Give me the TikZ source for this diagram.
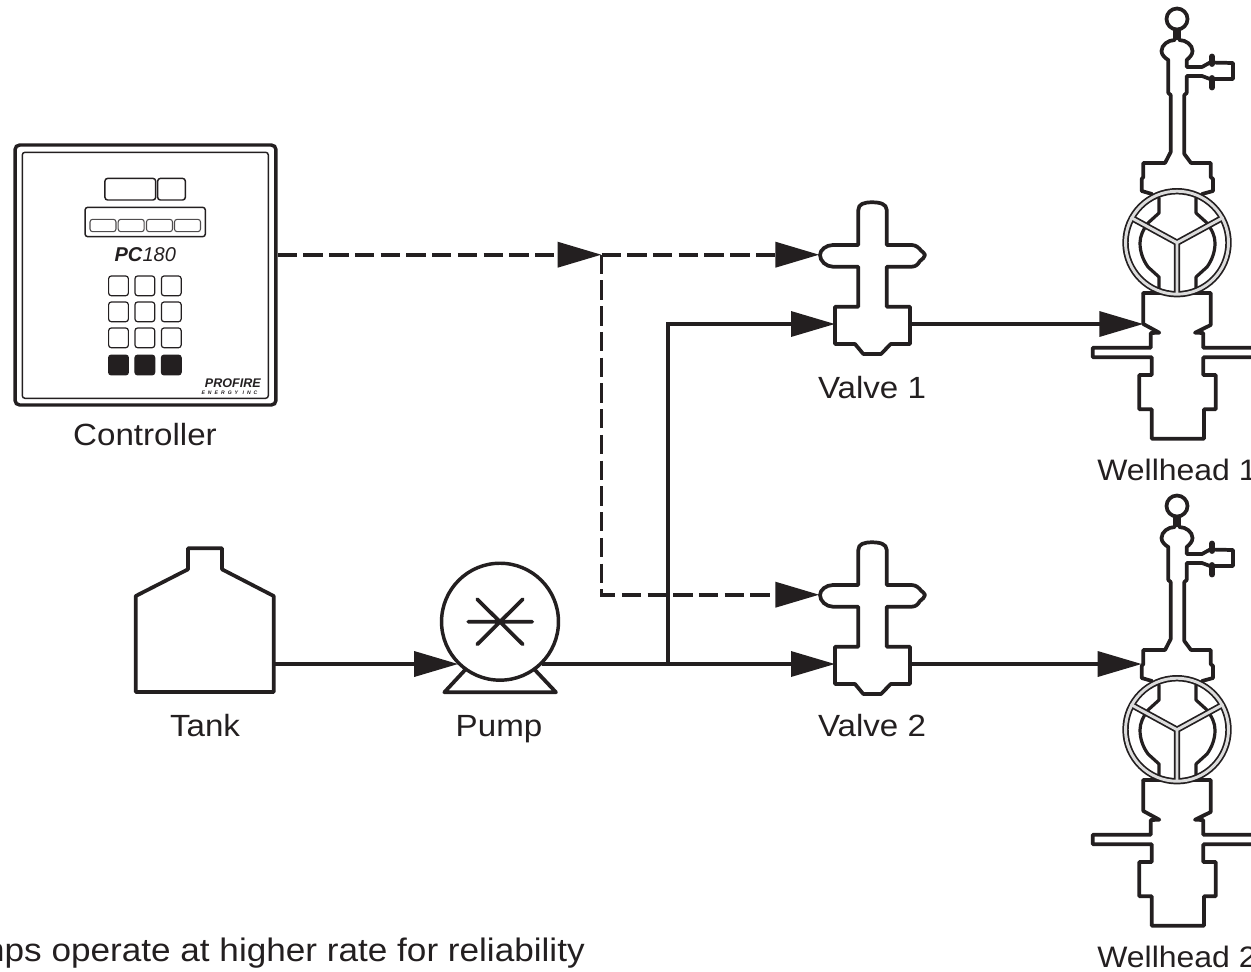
\documentclass[tikz,border=0pt]{standalone}
\usepackage{fontspec}
\usepackage{graphicx}
\setmainfont[FakeStretch=1.08]{Liberation Sans}
\newfontfamily\logofont{Liberation Sans}
\usetikzlibrary{arrows.meta}
\definecolor{ink}{HTML}{231F20}
\definecolor{ringgray}{HTML}{DCDCDC}
\tikzset{
  outline/.style={draw=ink,line width=2.8pt,line join=round,line cap=round},
  flow/.style={draw=ink,line width=2.6pt,line join=miter},
  tipped/.style={-{Triangle[length=33pt,width=18.75pt,color=ink,fill=ink]}},
  signal/.style={draw=ink,line width=2.8pt,dash pattern=on 14.5pt off 4.8pt},
  label/.style={text=ink,inner sep=0pt,anchor=base,font=\fontsize{23}{26}\selectfont},
  welllabel/.style={label,anchor=base west,font=\fontsize{22.2}{26}\selectfont},
  notelabel/.style={label,anchor=base east,font=\fontsize{24.4}{28}\selectfont},
  panelbox/.style={draw=ink,line width=1.1pt,rounded corners=2pt,inner sep=0pt},
  softbox/.style={draw=ink!80,line width=.8pt,rounded corners=2pt,inner sep=0pt,minimum width=19.5pt,minimum height=9.3pt},
  keybox/.style={draw=ink,line width=.9pt,rounded corners=2pt,inner sep=0pt,minimum width=14.8pt,minimum height=14.8pt},
  hotkey/.style={keybox,fill=ink},
  pics/valvesym/.style={code={
    \draw[outline] (-13.7,245) -- (-13.7,210) .. controls (-13.7,204) and (-8,202.3) .. (0,202.3)
      .. controls (8,202.3) and (14.7,204) .. (14.7,210) -- (14.7,245) -- (39.7,245)
      .. controls (44,245) and (47,248) .. (49,250.5) .. controls (50,252.5) and (53,252.5) .. (53,255)
      .. controls (53,258) and (50,258.5) .. (48,261) .. controls (46,264) and (44,266.7) .. (39.7,266.7) -- (14.7,266.7)
      -- (14.7,306.7) -- (38,306.7) -- (38,344) -- (18.7,344) -- (9,354) -- (-8.7,354)
      -- (-17,344) -- (-37,344) -- (-37,306.7) -- (-13.7,306.7) -- (-13.7,266.7) -- (-39,266.7)
      .. controls (-46,266.7) and (-52,261) .. (-52,255)
      .. controls (-52,250) and (-46,245) .. (-39,245) -- cycle;
    \coordinate (-air) at (-52.7,254.7);
    \coordinate (-in) at (-37,324);
    \coordinate (-out) at (38,324);
  }},
  pics/wellsym/.style={code={
    % ball and stem
    \draw[outline] (0,19) circle[radius=10.5];
    \draw[outline,line cap=butt] (-2.2,29) -- (-2.2,40) (2.2,29) -- (2.2,40);
    % upper bonnet and side outlet
    \draw[outline] (-2.2,40) .. controls (-9,40) and (-15.5,45) .. (-15.5,51)
      .. controls (-15.5,55) and (-12,58) .. (-8.7,60) -- (-8.7,93) -- (-6.3,95) -- (-6.3,152)
      -- (-12,163) -- (-33.7,163) -- (-33.7,177) -- (-35.3,179) -- (-35.3,191) -- (-25,194);
    \draw[outline] (2.2,40) .. controls (9,40) and (15.5,45) .. (15.5,51)
      .. controls (15.5,55) and (12,58) .. (9.7,60) -- (9.7,67) -- (25,67) -- (33,62.5) -- (56,63)
      -- (56,79) -- (33,79) -- (25,76) -- (9.7,76) -- (9.7,93) -- (7.3,95) -- (7.3,154)
      -- (14,163) -- (33.7,163) -- (33.7,177) -- (36,179) -- (36,191) -- (25,194);
    \draw[draw=ink,line width=4.4pt,line cap=round] (35,56.5) -- (35,64) (35,78) -- (35,87.5);
    % lower body
    \draw[outline] (-33.7,293) -- (33.7,293) -- (33.7,325) -- (18,332.7) -- (26.3,333) -- (26.3,347.7) -- (80,347.7);
    \draw[outline] (80,357.3) -- (26.3,357.3) -- (26.3,375) -- (38.7,375) -- (38.7,409.3) -- (27,409.3)
      -- (27,438.7) -- (-25.3,438.7) -- (-25.3,409.3) -- (-37.7,409.3) -- (-37.7,375) -- (-25.3,375)
      -- (-25.3,357.3) -- (-84.3,357.3) -- (-84.3,347.7) -- (-26.3,347.7) -- (-26.3,333)
      -- (-17.7,332.7) -- (-33.7,324) -- (-33.7,293);
    % hand wheel
    \fill[white] (0,242.7) circle[radius=52];
    \draw[outline,line width=2.4pt] (-18,198) -- (-18,213) -- (-29,223)
      .. controls (-34,230) and (-37,236) .. (-37,243) .. controls (-37,252) and (-34,260) .. (-29,267)
      -- (-18,277) -- (-18,290);
    \draw[outline,line width=2.4pt] (19,198) -- (19,213) -- (30,223)
      .. controls (35,230) and (38,236) .. (38,243) .. controls (38,252) and (35,260) .. (30,267)
      -- (19,277) -- (19,290);
    \draw[draw=ink,line width=4.8pt] (0,242.7) circle[radius=51.5];
    \draw[draw=ink,line width=4.8pt,line join=miter] (-46.5,217.3) -- (0,242.7) -- (46.5,217.3) (0,242.7) -- (0,294);
    \draw[draw=ringgray,line width=2.2pt] (0,242.7) circle[radius=51.5];
    \draw[draw=ringgray,line width=2.2pt,line join=miter] (-46.5,217.3) -- (0,242.7) -- (46.5,217.3) (0,242.7) -- (0,294);
    \coordinate (-inlow) at (-33.7,324);
    \coordinate (-inup) at (-35.3,177);
  }}
}
\begin{document}
\begin{tikzpicture}[x=0.75pt,y=-0.75pt]
\useasboundingbox (0,0) rectangle (1251,971);

% Controller
\node[draw=ink,line width=2.6pt,rounded corners=3.5pt,inner sep=0pt,minimum width=195.7pt,minimum height=195pt] (ctrl) at (145.5,275) {};
\node[draw=ink,line width=1.1pt,rounded corners=2pt,inner sep=0pt,minimum width=184.5pt,minimum height=184.5pt] (ctrlin) at (145.3,275.3) {};
\node[panelbox,minimum width=38pt,minimum height=16.2pt] (disp1) at (130.3,189.2) {};
\node[panelbox,minimum width=20.7pt,minimum height=16.2pt] (disp2) at (171.5,189.2) {};
\node[panelbox,minimum width=90.2pt,minimum height=22pt] (dpanel) at (145.2,222) {};
\node[softbox] (soft1) at (103,225.5) {};
\node[softbox] (soft2) at (131.2,225.5) {};
\node[softbox] (soft3) at (159.5,225.5) {};
\node[softbox] (soft4) at (187.5,225.5) {};
\node[text=ink,inner sep=0pt,anchor=base,font=\logofont\fontsize{15}{17}\selectfont] (pclabel) at (145.3,261.5) {\textbf{\textit{PC}}\textit{180}};
\foreach \r/\yy in {1/285.85,2/311.85,3/337.85}{
  \foreach \c/\xx in {1/118.5,2/144.85,3/171.3}{
    \node[keybox] (key\r\c) at (\xx,\yy) {};
  }
}
\foreach \c/\xx in {1/118.5,2/144.85,3/171.3}{
  \node[hotkey] (hot\c) at (\xx,365) {};
}
\node[text=ink,inner sep=0pt,anchor=base,font=\logofont\fontsize{9.4}{10}\selectfont] (brand) at (233,387.3) {\textbf{\textit{PROFIRE}}};
\node[text=ink,inner sep=0pt,anchor=base,font=\logofont\fontsize{3.8}{4}\selectfont] (brandsub) at (231,394) {\addfontfeature{LetterSpace=60}\textbf{\textit{ENERGY INC}}};
\node[label] (ctrllabel) at (145,445) {Controller};

% Tank
\draw[outline] (135.7,692) -- (135.7,596) -- (188,569.3) -- (188,548.3) -- (222,548.3) -- (222,569.3) -- (273.7,596) -- (273.7,692) -- cycle;
\coordinate (tankout) at (273.7,664);
\node[label] (tanklabel) at (205,736) {Tank};

% Pump
\node[circle,draw=ink,line width=2.6pt,inner sep=0pt,minimum size=87.7pt] (pump) at (500,621.7) {};
\draw[outline] (468.3,621.7) -- (532.3,621.7) (477.3,599.3) -- (522.7,644.3) (477.3,644.3) -- (522.7,599.3);
\draw[outline] (465,670) -- (444.3,692.3) -- (556,692.3) -- (535,670);
\node[label] (pumplabel) at (499,736) {Pump};

% Valves
\pic (v1) at (872,0) {valvesym};
\pic (v2) at (872,340) {valvesym};
\node[label] (v1label) at (872,398) {Valve 1};
\node[label] (v2label) at (872,736) {Valve 2};

% Wellheads
\pic (w1) at (1177,0) {wellsym};
\pic (w2) at (1177,487) {wellsym};
\node[welllabel] (w1label) at (1097,480.7) {Wellhead 1};
\node[welllabel] (w2label) at (1097,967) {Wellhead 2};

% Note
\node[notelabel] (note) at (585,961) {Pumps operate at higher rate for reliability};

% Connectors
\coordinate (sigj) at (601.5,254.7);
\coordinate (branch) at (668,664);
\draw[signal,tipped] (ctrl.east |- sigj) -- (sigj);
\draw[signal,tipped] (sigj) -- (v1-air);
\draw[signal,tipped] (sigj) |- (v2-air);
\draw[flow,tipped] (tankout) -- (pump.226 |- tankout);
\draw[flow] (pump.-46 |- branch) -- (branch);
\draw[flow,tipped] (branch) -- (v2-in);
\draw[flow,tipped] (branch) |- (v1-in);
\draw[flow,tipped] (v1-out) -- (w1-inlow);
\draw[flow,tipped] (v2-out) -- (w2-inup);
\end{tikzpicture}
\end{document}
